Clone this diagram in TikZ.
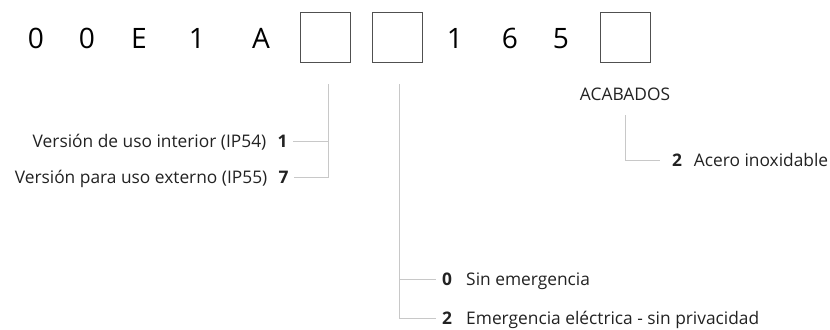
\documentclass[tikz,border=0pt]{standalone}
\usepackage{fontspec}
\setmainfont{Open Sans}
\usepackage{xcolor}
\usepackage{tikz}
\usetikzlibrary{positioning}
\definecolor{linegray}{HTML}{C8C8C8}
\definecolor{boxgray}{HTML}{505050}
\definecolor{textdark}{HTML}{222222}

\begin{document}
\begin{tikzpicture}[x=0.03cm, y=-0.03cm,
    code/.style={font=\fontsize{24}{30}\selectfont, inner sep=0pt, anchor=base},
    slot/.style={draw=boxgray, line width=0.8pt, minimum size=1.5cm, inner sep=0pt},
    opt/.style={font=\fontsize{14.8}{18}\selectfont, text=textdark, inner sep=0pt},
    num/.style={font=\fontsize{14.8}{18}\selectfont\bfseries, text=textdark, inner sep=0pt, outer xsep=5pt},
    conn/.style={draw=linegray, line width=0.8pt}]
    \useasboundingbox (0,0) rectangle (830,329);
    % Codigo
    \node[code] (c1) at (36,48) {0};
    \node[code] (c2) at (87,48) {0};
    \node[code] (c3) at (139,48) {E};
    \node[code] (c4) at (197,48) {1};
    \node[code] (c5) at (261,48) {A};
    \node[slot] (slot1) at (325,37) {};
    \node[slot] (slot2) at (397,37) {};
    \node[code] (c6) at (455,48) {1};
    \node[code] (c7) at (510,48) {6};
    \node[code] (c8) at (561,48) {5};
    \node[slot] (slot3) at (625.5,37) {};
    % Version
    \coordinate (s1foot) at (328,84);
    \node[num] (v1num) at (282.5,141) {1};
    \node[opt, base left=4.4pt of v1num] (v1txt) {Versión de uso interior (IP54)};
    \node[num] (v7num) at (283.5,177) {7};
    \node[opt, base left=4.4pt of v7num] (v7txt) {Versión para uso externo (IP55)};
    \draw[conn] (s1foot) |- (v1num);
    \draw[conn] (s1foot) |- (v7num);
    % Emergencia
    \coordinate (s2foot) at (399,84);
    \node[num] (e0num) at (447,279) {0};
    \node[opt, base right=7pt of e0num] (e0txt) {Sin emergencia};
    \node[num] (e2num) at (447,318) {2};
    \node[opt, base right=7pt of e2num] (e2txt) {Emergencia eléctrica - sin privacidad};
    \draw[conn] (s2foot) |- (e0num);
    \draw[conn] (s2foot) |- (e2num);
    % Acabados
    \node[opt, anchor=base] (acab) at (625,100.5) {ACABADOS};
    \coordinate (acfoot) at (625,115);
    \node[num, outer xsep=10pt] (a2num) at (677,160) {2};
    \node[opt, base right=0pt of a2num] (a2txt) {Acero inoxidable};
    \draw[conn] (acfoot) |- (a2num);
\end{tikzpicture}
\end{document}
